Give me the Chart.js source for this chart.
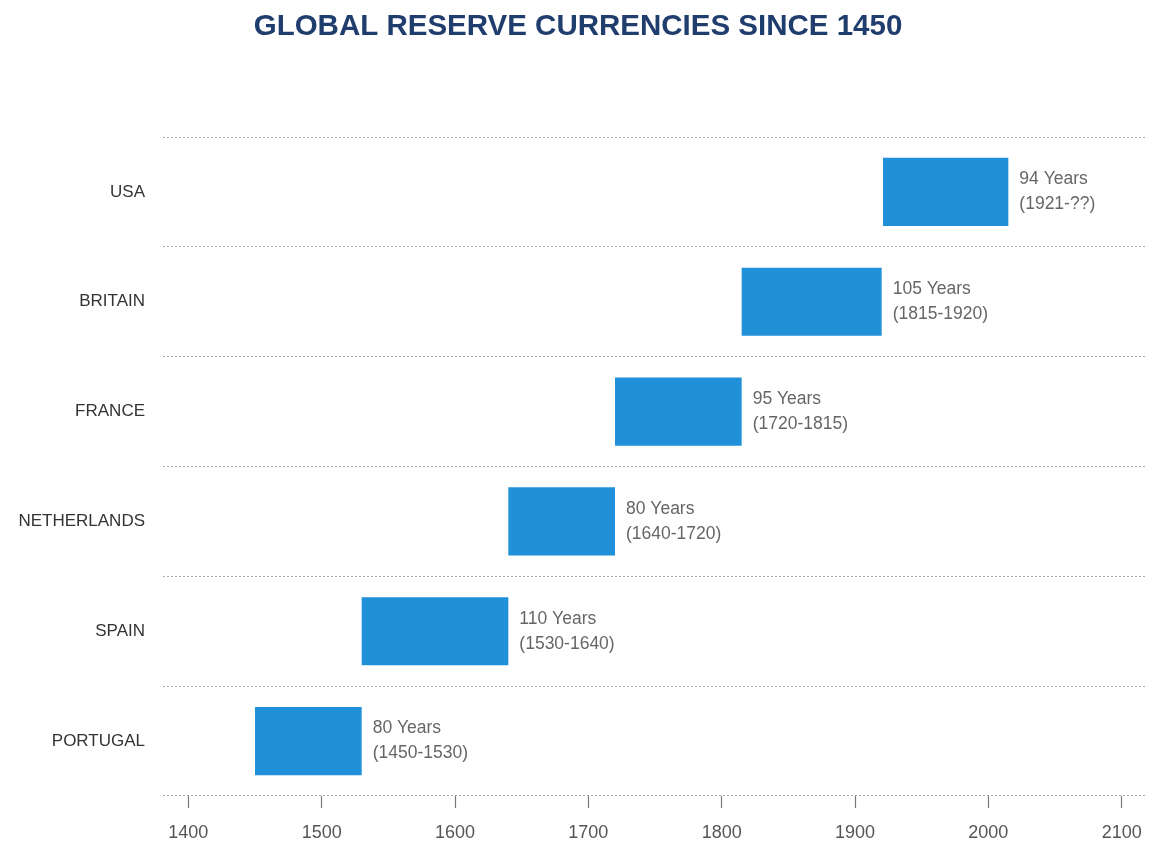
<!DOCTYPE html>
<html>
<head>
<meta charset="utf-8">
<script src="https://cdn.jsdelivr.net/npm/chart.js@4"></script>
<style>
  html, body { margin: 0; padding: 0; background: #ffffff; }
  #wrap { width: 1172px; height: 844px; position: relative; }
</style>
</head>
<body>
<div id="wrap"><canvas id="chart"></canvas></div>
<script>
// Reserve-currency eras, listed top to bottom
const countries = ['USA', 'BRITAIN', 'FRANCE', 'NETHERLANDS', 'SPAIN', 'PORTUGAL'];
const startYears = [1921, 1815, 1720, 1640, 1530, 1450];
const endYears = [2015, 1920, 1815, 1720, 1640, 1530];
const durationLabels = ['94 Years', '105 Years', '95 Years', '80 Years', '110 Years', '80 Years'];
const periodLabels = ['(1921-??)', '(1815-1920)', '(1720-1815)', '(1640-1720)', '(1530-1640)', '(1450-1530)'];
const tickYears = [1400, 1500, 1600, 1700, 1800, 1900, 2000, 2100];

const FONT = '"Liberation Sans", Arial, Helvetica, sans-serif';

// Two-line caption to the right of each bar
const barCaptions = {
  id: 'barCaptions',
  afterDatasetsDraw(chart) {
    const ctx = chart.ctx;
    const meta = chart.getDatasetMeta(0);
    ctx.save();
    ctx.font = '17.5px ' + FONT;
    ctx.fillStyle = '#666666';
    ctx.textAlign = 'left';
    ctx.textBaseline = 'middle';
    meta.data.forEach((bar, i) => {
      const x = bar.x + 11;
      ctx.fillText(durationLabels[i], x, bar.y - 12.5);
      ctx.fillText(periodLabels[i], x, bar.y + 12.5);
    });
    ctx.restore();
  }
};

new Chart(document.getElementById('chart'), {
  type: 'bar',
  data: {
    labels: countries,
    datasets: [{
      data: countries.map((c, i) => [startYears[i], endYears[i]]),
      backgroundColor: '#2090d8',
      borderWidth: 0,
      categoryPercentage: 1,
      barPercentage: 0.62
    }]
  },
  options: {
    indexAxis: 'y',
    responsive: true,
    maintainAspectRatio: false,
    animation: false,
    layout: { padding: { left: 9, right: 25, top: 0, bottom: 0 } },
    plugins: {
      legend: { display: false },
      tooltip: { enabled: false },
      title: {
        display: true,
        text: 'GLOBAL RESERVE CURRENCIES SINCE 1450',
        color: '#1f3d6d',
        font: { family: FONT, size: 29.5, weight: 'bold', lineHeight: 1.2 },
        padding: { top: 9, bottom: 92.6 }
      }
    },
    scales: {
      x: {
        type: 'linear',
        min: 1381,
        max: 2119,
        afterBuildTicks(scale) {
          scale.ticks = tickYears.map(v => ({ value: v }));
        },
        afterFit(scale) { scale.height = 48; },
        grid: {
          drawOnChartArea: false,
          drawTicks: true,
          tickLength: 12,
          tickColor: '#777777',
          tickWidth: 1.2
        },
        border: { display: false },
        ticks: {
          color: '#555555',
          padding: 14,
          font: { family: FONT, size: 18 },
          maxRotation: 0,
          autoSkip: false,
          callback: (v) => String(v)
        }
      },
      y: {
        type: 'category',
        offset: true,
        afterFit(scale) { scale.width = 154; },
        grid: {
          offset: true,
          drawTicks: false,
          color: '#aaaaaa',
          lineWidth: 1
        },
        border: { display: false, dash: [2, 2] },
        ticks: {
          color: '#333333',
          padding: 18,
          font: { family: FONT, size: 17 }
        }
      }
    }
  },
  plugins: [barCaptions]
});
</script>
</body>
</html>
